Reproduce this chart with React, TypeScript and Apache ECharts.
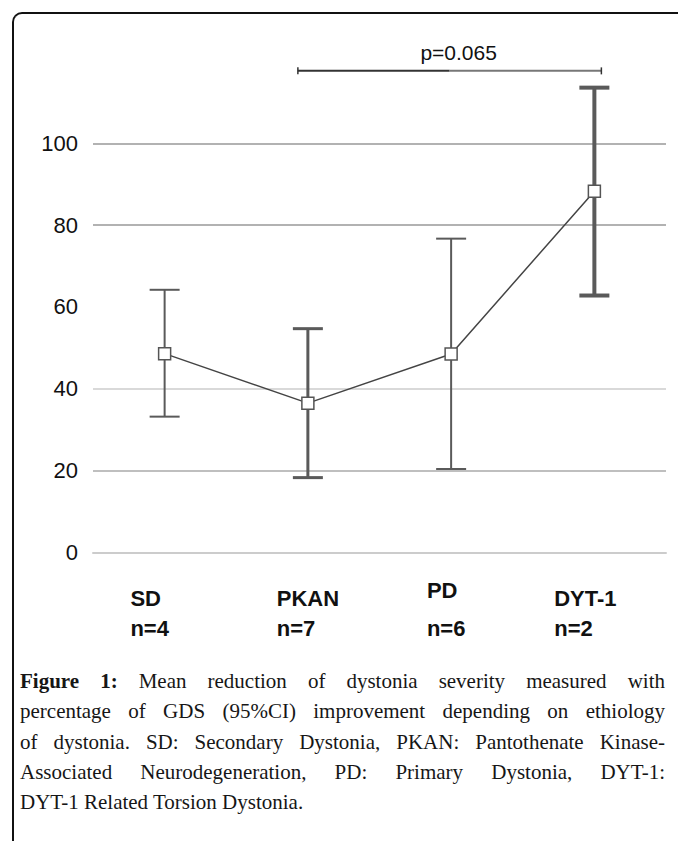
import React, { useEffect, useRef } from "react";
import * as echarts from "echarts";

// ---- data ----
const categories = ["SD", "PKAN", "PD", "DYT-1"];
const sampleSizes = [4, 7, 6, 2];
const means = [48.6, 36.5, 48.5, 88.3];
const ciLower = [33.2, 18.3, 20.4, 62.8];
const ciUpper = [64.2, 54.7, 76.7, 113.6];
const yMin = 0;
const yMax = 100;
const yStep = 20;
const pFrom = 1; // PKAN
const pTo = 3; // DYT-1
const pLevel = 117.7;
const pLabel = "p=0.065";
const captionLead = "Figure 1:";
const captionLines = [
  " Mean reduction of dystonia severity measured with",
  "percentage of GDS (95%CI) improvement depending on ethiology",
  "of dystonia. SD: Secondary Dystonia, PKAN: Pantothenate Kinase-",
  "Associated Neurodegeneration, PD: Primary Dystonia, DYT-1:",
  "DYT-1 Related Torsion Dystonia.",
];

// ---- styling (not data) ----
const errLineWidths = [2, 3, 2, 4];
const labelShiftLeft = [15, 0, 5, 9];
const labelRaised = [false, false, true, false];
const gridColors = ["#cccccc", "#aaaaaa", "#cccccc", "rgba(0,0,0,0)", "#999999", "#999999"];

const SANS = '"Liberation Sans", Arial, Helvetica, sans-serif';

export default function App() {
  const ref = useRef<HTMLDivElement | null>(null);

  useEffect(() => {
    if (!ref.current) return;
    const chart = echarts.init(ref.current, undefined, { renderer: "svg" });

    const option: any = {
      animation: false,
      tooltip: { show: false },
      grid: { left: 93, right: 12, top: 143.3, bottom: 288.5 },
      xAxis: {
        type: "category",
        boundaryGap: true,
        data: categories.map((c, i) => ({
          value: c,
          textStyle: { padding: [0, labelShiftLeft[i] * 2, 0, 0] },
        })),
        axisLine: { lineStyle: { color: "#cccccc", width: 2 } },
        axisTick: {
          alignWithLabel: true,
          inside: true,
          length: 4,
          lineStyle: { color: "#bbbbbb", width: 1.5 },
        },
        axisLabel: {
          interval: 0,
          margin: 31,
          formatter: (v: string, i: number) =>
            labelRaised[i]
              ? `{ar|${v}}\n{br|n=${sampleSizes[i]}}`
              : `{a|${v}}\n{b|n=${sampleSizes[i]}}`,
          rich: {
            a: { fontFamily: SANS, fontWeight: "bold", fontSize: 22, lineHeight: 30, color: "#111", align: "left" },
            b: { fontFamily: SANS, fontWeight: "bold", fontSize: 22, lineHeight: 30, color: "#111", align: "left" },
            ar: { fontFamily: SANS, fontWeight: "bold", fontSize: 22, lineHeight: 14, color: "#111", align: "left" },
            br: { fontFamily: SANS, fontWeight: "bold", fontSize: 22, lineHeight: 62, color: "#111", align: "left" },
          },
        },
      },
      yAxis: {
        type: "value",
        min: yMin,
        max: yMax,
        interval: yStep,
        axisLine: { show: false },
        axisTick: { show: false },
        axisLabel: { margin: 15, fontSize: 22, color: "#111", fontFamily: SANS },
        splitLine: { lineStyle: { color: gridColors, width: 1.5 } },
      },
      series: [
        {
          type: "custom",
          name: "95% CI",
          clip: false,
          z: 2,
          data: categories.map((_, i) => [i, ciLower[i], ciUpper[i]]),
          encode: { x: 0, y: [1, 2] },
          renderItem: (params: any, api: any) => {
            const x = api.value(0);
            const lo = api.coord([x, api.value(1)]);
            const hi = api.coord([x, api.value(2)]);
            const half = 15;
            const style = { stroke: "#5a5a5a", lineWidth: errLineWidths[params.dataIndex] };
            return {
              type: "group",
              children: [
                { type: "line", shape: { x1: lo[0], y1: lo[1], x2: hi[0], y2: hi[1] }, style },
                { type: "line", shape: { x1: hi[0] - half, y1: hi[1], x2: hi[0] + half, y2: hi[1] }, style },
                { type: "line", shape: { x1: lo[0] - half, y1: lo[1], x2: lo[0] + half, y2: lo[1] }, style },
              ],
            };
          },
        },
        {
          type: "line",
          name: "Mean",
          data: means,
          z: 3,
          symbol: "rect",
          symbolSize: 12,
          showAllSymbol: true,
          lineStyle: { color: "#444444", width: 1.5 },
          itemStyle: { color: "#ffffff", borderColor: "#555555", borderWidth: 1.5 },
        },
        {
          type: "custom",
          name: "p",
          clip: false,
          z: 4,
          data: [[pFrom, pTo, pLevel]],
          encode: { x: [0, 1], y: 2 },
          renderItem: (_params: any, api: any) => {
            const a = api.coord([api.value(0), api.value(2)]);
            const b = api.coord([api.value(1), api.value(2)]);
            const left = a[0] - 10;
            const right = b[0] + 7;
            const mid = (left + right) / 2;
            const y = a[1];
            return {
              type: "group",
              children: [
                { type: "line", shape: { x1: left, y1: y, x2: mid, y2: y }, style: { stroke: "#333333", lineWidth: 2 } },
                { type: "line", shape: { x1: mid, y1: y, x2: right, y2: y }, style: { stroke: "#777777", lineWidth: 2 } },
                { type: "line", shape: { x1: left, y1: y - 3.5, x2: left, y2: y + 3.5 }, style: { stroke: "#333333", lineWidth: 1.5 } },
                { type: "line", shape: { x1: right, y1: y - 3.5, x2: right, y2: y + 3.5 }, style: { stroke: "#333333", lineWidth: 1.5 } },
                {
                  type: "text",
                  x: mid + 9,
                  y: y - 18,
                  style: {
                    text: pLabel,
                    fill: "#111",
                    font: `21px ${SANS}`,
                    align: "center",
                    verticalAlign: "middle",
                  },
                },
              ],
            };
          },
        },
      ],
    };

    chart.setOption(option);
    return () => chart.dispose();
  }, []);

  const lineStyleBase: React.CSSProperties = {
    height: "30.3px",
    whiteSpace: "nowrap",
    overflow: "visible",
  };

  return (
    <div style={{ position: "absolute", left: 0, top: 0, width: 678, height: 841, background: "#fff", overflow: "hidden" }}>
      <div ref={ref} style={{ position: "absolute", left: 0, top: 0, width: 678, height: 841 }} />
      <div
        style={{
          position: "absolute",
          left: 12,
          top: 12,
          width: 720,
          height: 900,
          borderTop: "2px solid #111",
          borderLeft: "2px solid #111",
          borderTopLeftRadius: 10,
          boxSizing: "border-box",
          pointerEvents: "none",
        }}
      />
      <div
        style={{
          position: "absolute",
          left: 20,
          top: 666,
          width: 645,
          fontFamily: '"Liberation Serif", "Times New Roman", serif',
          fontSize: 21,
          lineHeight: "30.3px",
          color: "#161616",
        }}
      >
        {captionLines.map((ln, i) => {
          const last = i === captionLines.length - 1;
          return (
            <div
              key={i}
              style={{
                ...lineStyleBase,
                textAlign: last ? "left" : "justify",
                textAlignLast: last ? "left" : "justify",
              }}
            >
              {i === 0 ? <b style={{ wordSpacing: "normal" }}>{captionLead}</b> : null}
              {ln}
            </div>
          );
        })}
      </div>
    </div>
  );
}
